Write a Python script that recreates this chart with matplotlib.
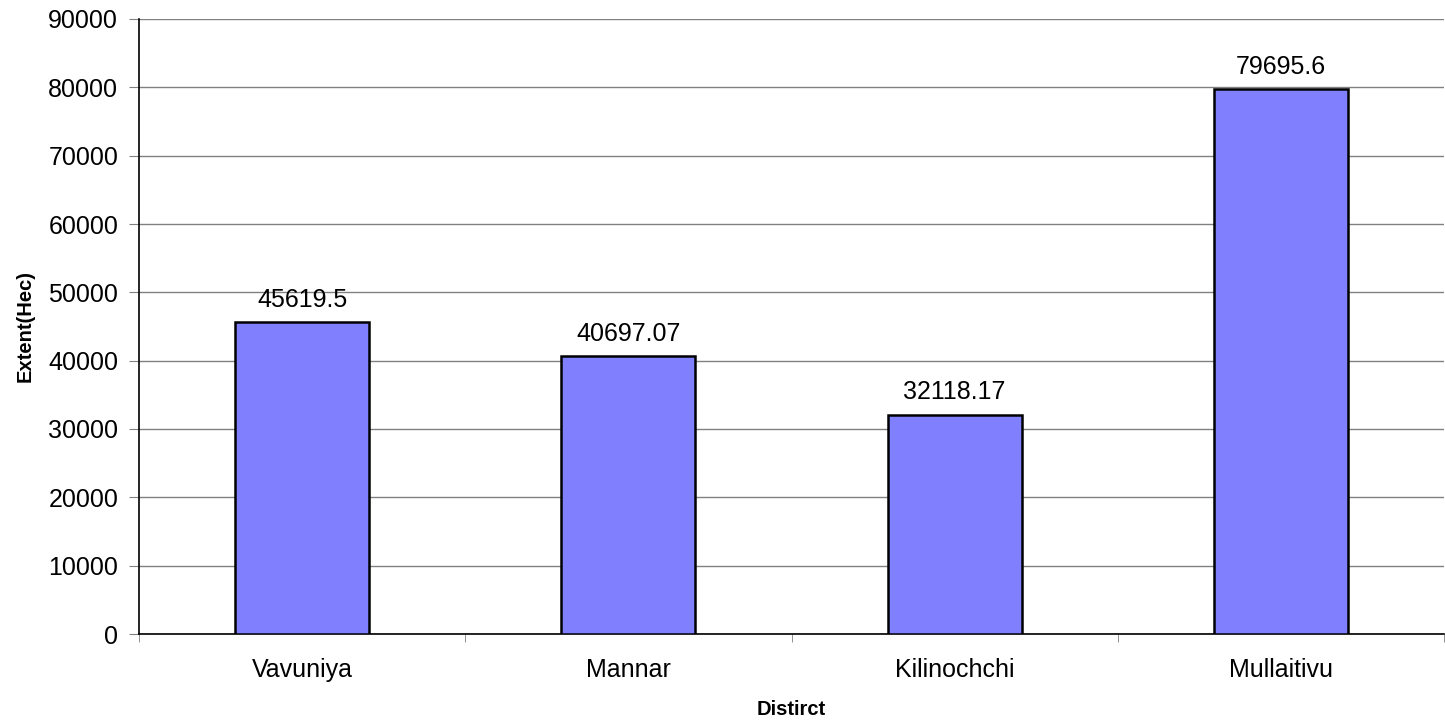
import matplotlib.pyplot as plt
import numpy as np

plt.rcParams['font.family'] = ['Liberation Sans', 'DejaVu Sans']

# Datos
districts = ['Vavuniya', 'Mannar', 'Kilinochchi', 'Mullaitivu']
extent = [45619.5, 40697.07, 32118.17, 79695.6]
labels = ['45619.5', '40697.07', '32118.17', '79695.6']

fig = plt.figure(figsize=(14.45, 7.28), dpi=100)
ax = fig.add_axes([139 / 1445, 94 / 728, 1305 / 1445, 615 / 728])

x = np.arange(len(districts))
ax.bar(x, extent, width=0.41, color='#8080FF', edgecolor='black', linewidth=1.8, zorder=3)

for xi, v, t in zip(x, extent, labels):
    ax.text(xi, v + 1500, t, ha='center', va='bottom', fontsize=18)

ax.set_xlim(-0.5, 3.5)
ax.set_ylim(0, 90000)
ax.set_yticks(range(0, 90001, 10000))
ax.yaxis.grid(True, color='#808080', linewidth=1, zorder=0)
ax.set_axisbelow(True)

ax.set_xticks(x)
ax.set_xticklabels(districts)
ax.set_xticks(np.arange(-0.5, 4, 1), minor=True)
ax.tick_params(axis='x', which='major', length=0, pad=17, labelsize=18)
ax.tick_params(axis='x', which='minor', length=6, color='#808080')
ax.tick_params(axis='y', length=7, color='#808080', labelsize=18, pad=8)

for s in ['top', 'right']:
    ax.spines[s].set_visible(False)
ax.spines['left'].set_linewidth(1.2)
ax.spines['bottom'].set_linewidth(1.2)

ax.set_xlabel('Distirct', fontsize=14.5, fontweight='bold', labelpad=13)
ax.set_ylabel('Extent(Hec)', fontsize=14.5, fontweight='bold', labelpad=10)

fig.savefig('out.png', dpi=100)
